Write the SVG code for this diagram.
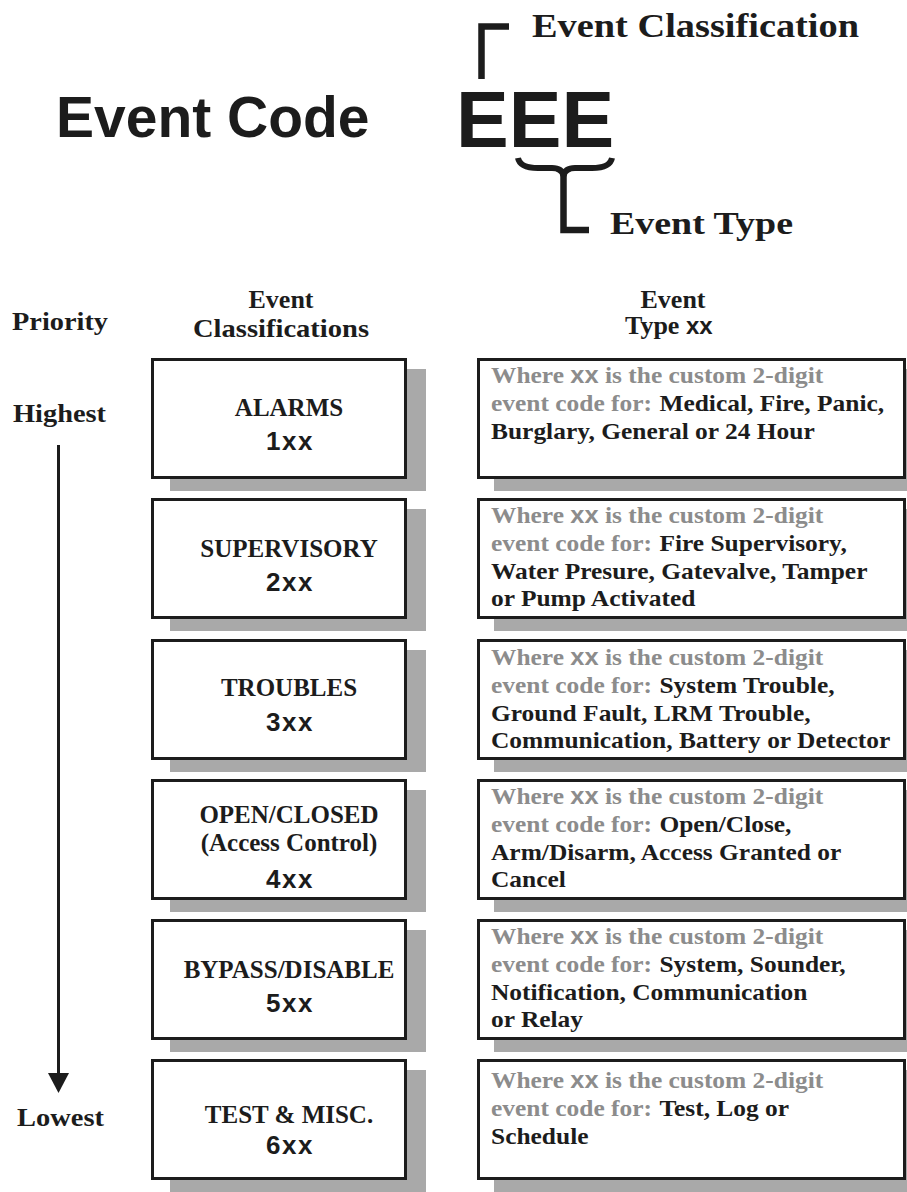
<svg xmlns="http://www.w3.org/2000/svg" width="907" height="1192" viewBox="0 0 907 1192">
<style>
.serif{font-family:"Liberation Serif","Times New Roman",serif;font-weight:bold;fill:#1c1c1c}
.sans{font-family:"Liberation Sans",Arial,sans-serif;font-weight:bold;fill:#1c1c1c}
.gray{fill:#8c8c8c}
.box{fill:#fff;stroke:#1c1c1c;stroke-width:3}
.shadow{fill:#a9a9a9}
.lbl{font-size:25px;text-anchor:middle}
.code{font-size:26px;letter-spacing:1.5px;text-anchor:middle}
.desc{font-size:24px}
.hdr{font-size:26px}
.xx{font-size:24px}
</style>
<rect width="907" height="1192" fill="#fff"/>

<g id="title">
<text class="sans" x="56" y="137" font-size="57">Event Code</text>
<text class="sans" x="456" y="147" font-size="79">EEE</text>
<text class="serif" x="532" y="37" font-size="33" textLength="327" lengthAdjust="spacingAndGlyphs">Event Classification</text>
<text class="serif" x="610" y="234" font-size="32" textLength="183" lengthAdjust="spacingAndGlyphs">Event Type</text>
<path d="M481.5 79 V26.5 H509" fill="none" stroke="#1c1c1c" stroke-width="6.5"/>
<path d="M518 158 Q520 168 538 168 L552 168 Q562 168 563.5 176 Q565 168 575 168 L592 168 Q610 168 612 158" fill="none" stroke="#1c1c1c" stroke-width="6"/>
<path d="M563.5 174 V230 H589" fill="none" stroke="#1c1c1c" stroke-width="6.5"/>
</g>

<g id="headers">
<text class="serif hdr" x="12" y="330" textLength="96" lengthAdjust="spacingAndGlyphs">Priority</text>
<text class="serif hdr" x="281" y="308" text-anchor="middle">Event</text>
<text class="serif hdr" x="193" y="337" textLength="176" lengthAdjust="spacingAndGlyphs">Classifications</text>
<text class="serif hdr" x="673" y="308" text-anchor="middle">Event</text>
<text class="serif hdr" x="625" y="334">Type <tspan class="sans" font-size="24">xx</tspan></text>
<text class="serif hdr" x="13" y="422" textLength="93" lengthAdjust="spacingAndGlyphs">Highest</text>
<text class="serif hdr" x="17" y="1126" textLength="87" lengthAdjust="spacingAndGlyphs">Lowest</text>
</g>

<g id="connectors">
<line x1="58.5" y1="445" x2="58.5" y2="1076" stroke="#1c1c1c" stroke-width="3"/>
<polygon points="48,1073 69,1073 58.5,1093" fill="#1c1c1c"/>
</g>

<!-- Row 1 -->
<g id="class-1">
<rect class="shadow" x="170" y="369" width="256" height="122"/>
<rect class="box" x="152.5" y="359.5" width="253" height="118"/>
<text class="serif lbl" x="289" y="416">ALARMS</text>
<text class="sans code" x="290" y="450">1xx</text>
</g>
<g id="type-1">
<rect class="shadow" x="494" y="369" width="420" height="122"/>
<rect class="box" x="478.5" y="359.5" width="426" height="118"/>
<g transform="translate(491 0) scale(1.06 1)">
<text class="serif desc gray" x="0" y="383">Where <tspan class="sans gray xx">xx</tspan> is the custom 2-digit</text>
<text class="serif desc" x="0" y="411"><tspan class="gray">event code for:</tspan><tspan dx="7">Medical, Fire, Panic,</tspan></text>
<text class="serif desc" x="0" y="439">Burglary, General or 24 Hour</text>
</g>
</g>

<!-- Row 2 -->
<g id="class-2">
<rect class="shadow" x="170" y="509" width="256" height="122"/>
<rect class="box" x="152.5" y="499.5" width="253" height="118"/>
<text class="serif lbl" x="289" y="557">SUPERVISORY</text>
<text class="sans code" x="290" y="591">2xx</text>
</g>
<g id="type-2">
<rect class="shadow" x="494" y="509" width="420" height="122"/>
<rect class="box" x="478.5" y="499.5" width="426" height="118"/>
<g transform="translate(491 0) scale(1.06 1)">
<text class="serif desc gray" x="0" y="523">Where <tspan class="sans gray xx">xx</tspan> is the custom 2-digit</text>
<text class="serif desc" x="0" y="551"><tspan class="gray">event code for:</tspan><tspan dx="7">Fire Supervisory,</tspan></text>
<text class="serif desc" x="0" y="579">Water Presure, Gatevalve, Tamper</text>
<text class="serif desc" x="0" y="606">or Pump Activated</text>
</g>
</g>

<!-- Row 3 -->
<g id="class-3">
<rect class="shadow" x="170" y="650" width="256" height="122"/>
<rect class="box" x="152.5" y="640.5" width="253" height="118"/>
<text class="serif lbl" x="289" y="696">TROUBLES</text>
<text class="sans code" x="290" y="731">3xx</text>
</g>
<g id="type-3">
<rect class="shadow" x="494" y="650" width="420" height="122"/>
<rect class="box" x="478.5" y="640.5" width="426" height="118"/>
<g transform="translate(491 0) scale(1.06 1)">
<text class="serif desc gray" x="0" y="665">Where <tspan class="sans gray xx">xx</tspan> is the custom 2-digit</text>
<text class="serif desc" x="0" y="693"><tspan class="gray">event code for:</tspan><tspan dx="7">System Trouble,</tspan></text>
<text class="serif desc" x="0" y="721">Ground Fault, LRM Trouble,</text>
<text class="serif desc" x="0" y="748">Communication, Battery or Detector</text>
</g>
</g>

<!-- Row 4 -->
<g id="class-4">
<rect class="shadow" x="170" y="790" width="256" height="122"/>
<rect class="box" x="152.5" y="780.5" width="253" height="118"/>
<text class="serif lbl" x="289" y="823">OPEN/CLOSED</text>
<text class="serif lbl" x="289" y="851">(Access Control)</text>
<text class="sans code" x="290" y="888">4xx</text>
</g>
<g id="type-4">
<rect class="shadow" x="494" y="790" width="420" height="122"/>
<rect class="box" x="478.5" y="780.5" width="426" height="118"/>
<g transform="translate(491 0) scale(1.06 1)">
<text class="serif desc gray" x="0" y="804">Where <tspan class="sans gray xx">xx</tspan> is the custom 2-digit</text>
<text class="serif desc" x="0" y="832"><tspan class="gray">event code for:</tspan><tspan dx="7">Open/Close,</tspan></text>
<text class="serif desc" x="0" y="860">Arm/Disarm, Access Granted or</text>
<text class="serif desc" x="0" y="887">Cancel</text>
</g>
</g>

<!-- Row 5 -->
<g id="class-5">
<rect class="shadow" x="170" y="930" width="256" height="122"/>
<rect class="box" x="152.5" y="920.5" width="253" height="118"/>
<text class="serif lbl" x="289" y="978">BYPASS/DISABLE</text>
<text class="sans code" x="290" y="1012">5xx</text>
</g>
<g id="type-5">
<rect class="shadow" x="494" y="930" width="420" height="122"/>
<rect class="box" x="478.5" y="920.5" width="426" height="118"/>
<g transform="translate(491 0) scale(1.06 1)">
<text class="serif desc gray" x="0" y="944">Where <tspan class="sans gray xx">xx</tspan> is the custom 2-digit</text>
<text class="serif desc" x="0" y="972"><tspan class="gray">event code for:</tspan><tspan dx="7">System, Sounder,</tspan></text>
<text class="serif desc" x="0" y="1000">Notification, Communication</text>
<text class="serif desc" x="0" y="1027">or Relay</text>
</g>
</g>

<!-- Row 6 -->
<g id="class-6">
<rect class="shadow" x="170" y="1070" width="256" height="122"/>
<rect class="box" x="152.5" y="1060.5" width="253" height="118"/>
<text class="serif lbl" x="289" y="1123">TEST &amp; MISC.</text>
<text class="sans code" x="290" y="1154">6xx</text>
</g>
<g id="type-6">
<rect class="shadow" x="494" y="1070" width="420" height="122"/>
<rect class="box" x="478.5" y="1060.5" width="426" height="118"/>
<g transform="translate(491 0) scale(1.06 1)">
<text class="serif desc gray" x="0" y="1088">Where <tspan class="sans gray xx">xx</tspan> is the custom 2-digit</text>
<text class="serif desc" x="0" y="1116"><tspan class="gray">event code for:</tspan><tspan dx="7">Test, Log or</tspan></text>
<text class="serif desc" x="0" y="1144">Schedule</text>
</g>
</g>
</svg>
